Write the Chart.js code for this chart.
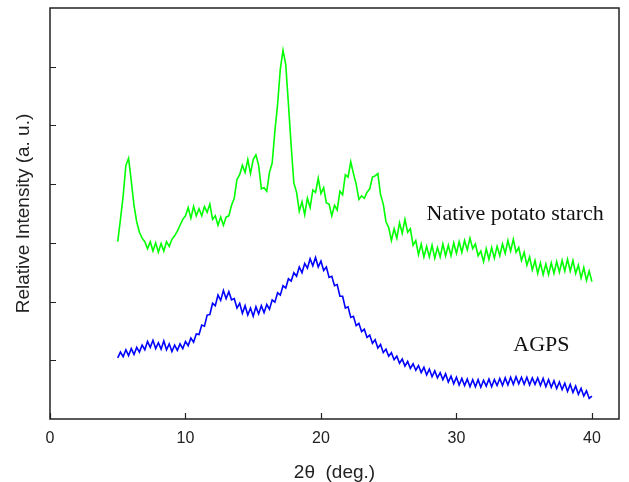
<!DOCTYPE html>
<html>
<head>
<meta charset="utf-8">
<title>XRD patterns</title>
<script src="https://cdn.jsdelivr.net/npm/chart.js@4"></script>
<style>
    body { margin: 0; background: #ffffff; }
    #wrap { width: 629px; height: 482px; position: relative; }
</style>
</head>
<body>
<div id="wrap"><canvas id="xrdChart"></canvas></div>
<script>
// 2-theta sampling points (deg.)
const angles = [
    5.0, 5.2, 5.4, 5.6, 5.8, 6.0, 6.2, 6.4, 6.6, 6.8,
    7.0, 7.2, 7.4, 7.6, 7.8, 8.0, 8.2, 8.4, 8.6, 8.8,
    9.0, 9.2, 9.4, 9.6, 9.8, 10.0, 10.2, 10.4, 10.6, 10.8,
    11.0, 11.2, 11.4, 11.6, 11.8, 12.0, 12.2, 12.4, 12.6, 12.8,
    13.0, 13.2, 13.4, 13.6, 13.8, 14.0, 14.2, 14.4, 14.6, 14.8,
    15.0, 15.2, 15.4, 15.6, 15.8, 16.0, 16.2, 16.4, 16.6, 16.8,
    17.0, 17.2, 17.4, 17.6, 17.8, 18.0, 18.2, 18.4, 18.6, 18.8,
    19.0, 19.2, 19.4, 19.6, 19.8, 20.0, 20.2, 20.4, 20.6, 20.8,
    21.0, 21.2, 21.4, 21.6, 21.8, 22.0, 22.2, 22.4, 22.6, 22.8,
    23.0, 23.2, 23.4, 23.6, 23.8, 24.0, 24.2, 24.4, 24.6, 24.8,
    25.0, 25.2, 25.4, 25.6, 25.8, 26.0, 26.2, 26.4, 26.6, 26.8,
    27.0, 27.2, 27.4, 27.6, 27.8, 28.0, 28.2, 28.4, 28.6, 28.8,
    29.0, 29.2, 29.4, 29.6, 29.8, 30.0, 30.2, 30.4, 30.6, 30.8,
    31.0, 31.2, 31.4, 31.6, 31.8, 32.0, 32.2, 32.4, 32.6, 32.8,
    33.0, 33.2, 33.4, 33.6, 33.8, 34.0, 34.2, 34.4, 34.6, 34.8,
    35.0, 35.2, 35.4, 35.6, 35.8, 36.0, 36.2, 36.4, 36.6, 36.8,
    37.0, 37.2, 37.4, 37.6, 37.8, 38.0, 38.2, 38.4, 38.6, 38.8,
    39.0, 39.2, 39.4, 39.6, 39.8, 40.0
];

// Native potato starch (green, offset upward)
const nativeStarch = [
    3.02, 3.40, 3.80, 4.32, 4.44, 4.05, 3.64, 3.36, 3.18, 3.08,
    3.02, 2.90, 3.02, 2.86, 3.00, 2.84, 2.99, 2.86, 3.02, 2.94,
    3.06, 3.12, 3.20, 3.30, 3.40, 3.46, 3.60, 3.42, 3.62, 3.46,
    3.58, 3.46, 3.62, 3.52, 3.66, 3.40, 3.46, 3.30, 3.44, 3.30,
    3.44, 3.46, 3.64, 3.76, 4.08, 4.16, 4.32, 4.20, 4.42, 4.18,
    4.42, 4.50, 4.32, 3.92, 3.94, 3.88, 4.20, 4.36, 4.90, 5.36,
    5.96, 6.28, 6.04, 5.36, 4.66, 4.02, 3.86, 3.54, 3.70, 3.48,
    3.76, 3.60, 3.90, 3.86, 4.10, 3.84, 3.94, 3.68, 3.66, 3.46,
    3.64, 3.56, 3.88, 3.82, 4.16, 4.12, 4.38, 4.18, 4.00, 3.74,
    3.80, 3.76, 3.86, 3.92, 4.12, 4.14, 4.18, 3.82, 3.66, 3.36,
    3.26, 3.04, 3.24, 3.08, 3.34, 3.16, 3.40, 3.18, 3.24, 2.96,
    3.04, 2.80, 2.98, 2.76, 2.94, 2.76, 2.96, 2.74, 2.92, 2.76,
    2.98, 2.78, 2.96, 2.78, 3.00, 2.82, 3.02, 2.84, 3.04, 2.88,
    3.08, 2.90, 2.98, 2.78, 2.86, 2.68, 2.90, 2.72, 2.92, 2.74,
    2.94, 2.78, 2.98, 2.82, 3.04, 2.86, 3.06, 2.84, 2.92, 2.70,
    2.84, 2.62, 2.76, 2.54, 2.70, 2.48, 2.66, 2.46, 2.64, 2.46,
    2.66, 2.48, 2.68, 2.50, 2.70, 2.52, 2.72, 2.52, 2.70, 2.48,
    2.62, 2.40, 2.58, 2.36, 2.52, 2.34
];

// AGPS (blue)
const agps = [
    1.04, 1.14, 1.06, 1.18, 1.08, 1.20, 1.10, 1.22, 1.14, 1.26,
    1.18, 1.32, 1.22, 1.34, 1.20, 1.30, 1.19, 1.33, 1.18, 1.28,
    1.15, 1.26, 1.17, 1.28, 1.20, 1.32, 1.25, 1.38, 1.31, 1.45,
    1.44, 1.60, 1.58, 1.77, 1.78, 1.97, 1.93, 2.11, 2.02, 2.19,
    2.05, 2.17, 2.03, 2.05, 1.89, 1.97, 1.80, 1.93, 1.77, 1.89,
    1.75, 1.91, 1.79, 1.93, 1.81, 1.95, 1.87, 2.03, 1.99, 2.15,
    2.11, 2.27, 2.23, 2.39, 2.35, 2.49, 2.43, 2.59, 2.49, 2.65,
    2.57, 2.73, 2.61, 2.75, 2.59, 2.69, 2.53, 2.59, 2.41, 2.43,
    2.27, 2.29, 2.09, 2.09, 1.89, 1.91, 1.73, 1.75, 1.59, 1.63,
    1.49, 1.53, 1.39, 1.43, 1.29, 1.35, 1.21, 1.27, 1.13, 1.19,
    1.07, 1.13, 1.01, 1.07, 0.95, 1.02, 0.90, 0.98, 0.86, 0.94,
    0.83, 0.91, 0.79, 0.88, 0.75, 0.85, 0.72, 0.82, 0.70, 0.79,
    0.67, 0.77, 0.63, 0.73, 0.60, 0.71, 0.58, 0.69, 0.57, 0.68,
    0.55, 0.67, 0.55, 0.67, 0.54, 0.66, 0.56, 0.68, 0.55, 0.67,
    0.57, 0.69, 0.57, 0.70, 0.58, 0.71, 0.59, 0.72, 0.60, 0.71,
    0.59, 0.71, 0.58, 0.70, 0.59, 0.70, 0.57, 0.69, 0.55, 0.67,
    0.54, 0.65, 0.52, 0.63, 0.50, 0.61, 0.47, 0.59, 0.45, 0.56,
    0.42, 0.52, 0.39, 0.48, 0.35, 0.39
];

// Tick values and curve labels
const xTicks = [0, 10, 20, 30, 40];
const yTicks = [1, 2, 3, 4, 5, 6];
const curveLabels = [
    { text: "Native potato starch", x: 27.8, y: 3.48 },
    { text: "AGPS", x: 34.2, y: 1.26 }
];

function toPoints(values) {
    return values.map((v, i) => ({ x: angles[i], y: v }));
}

// Frame, inward ticks and curve labels
const framePlugin = {
    id: "frame",
    afterDraw(chart) {
        const ctx = chart.ctx;
        const area = chart.chartArea;
        const xs = chart.scales.x;
        const ys = chart.scales.y;
        ctx.save();
        ctx.strokeStyle = "#222";
        ctx.lineWidth = 1.5;
        ctx.strokeRect(area.left, area.top, area.right - area.left, area.bottom - area.top);

        ctx.lineWidth = 1.2;
        ctx.beginPath();
        xTicks.forEach(t => {
            const px = Math.round(xs.getPixelForValue(t)) + 0.5;
            ctx.moveTo(px, area.bottom);
            ctx.lineTo(px, area.bottom - 6);
        });
        yTicks.forEach(t => {
            const py = Math.round(ys.getPixelForValue(t)) + 0.5;
            ctx.moveTo(area.left, py);
            ctx.lineTo(area.left + 6, py);
        });
        ctx.stroke();

        ctx.fillStyle = "#111";
        ctx.font = "22px 'Liberation Serif', 'Times New Roman', serif";
        ctx.textBaseline = "middle";
        ctx.textAlign = "left";
        curveLabels.forEach(l => {
            ctx.fillText(l.text, xs.getPixelForValue(l.x), ys.getPixelForValue(l.y));
        });
        ctx.restore();
    }
};

function drawChart() {
    const ctx = document.getElementById("xrdChart").getContext("2d");
    new Chart(ctx, {
        type: "line",
        data: {
            datasets: [
                {
                    label: "Native potato starch",
                    data: toPoints(nativeStarch),
                    borderColor: "#00ff00",
                    borderWidth: 1.6,
                    pointRadius: 0,
                    tension: 0
                },
                {
                    label: "AGPS",
                    data: toPoints(agps),
                    borderColor: "#0000ff",
                    borderWidth: 1.6,
                    pointRadius: 0,
                    tension: 0
                }
            ]
        },
        options: {
            responsive: true,
            maintainAspectRatio: false,
            animation: false,
            layout: { padding: { top: 8, right: 10, left: 0, bottom: 0 } },
            plugins: {
                legend: { display: false },
                tooltip: { enabled: false }
            },
            scales: {
                x: {
                    type: "linear",
                    min: 0,
                    max: 42,
                    afterBuildTicks: axis => { axis.ticks = xTicks.map(v => ({ value: v })); },
                    afterFit: axis => { axis.height = 63; },
                    grid: { display: false, drawTicks: false },
                    border: { display: false },
                    ticks: {
                        padding: 10,
                        color: "#222",
                        font: { family: "'Liberation Sans', Arial, sans-serif", size: 16 }
                    },
                    title: {
                        display: true,
                        text: "2θ  (deg.)",
                        color: "#222",
                        padding: { top: 0, bottom: 0 },
                        font: { family: "'Liberation Sans', Arial, sans-serif", size: 19, lineHeight: 1.0 }
                    }
                },
                y: {
                    min: 0,
                    max: 7,
                    afterFit: axis => { axis.width = 50; },
                    grid: { display: false, drawTicks: false },
                    border: { display: false },
                    ticks: { display: false },
                    title: {
                        display: true,
                        text: "Relative Intensity (a. u.)",
                        color: "#222",
                        padding: { top: 12, bottom: 0 },
                        font: { family: "'Liberation Sans', Arial, sans-serif", size: 19 }
                    }
                }
            }
        },
        plugins: [framePlugin]
    });
}

drawChart();
</script>
</body>
</html>
